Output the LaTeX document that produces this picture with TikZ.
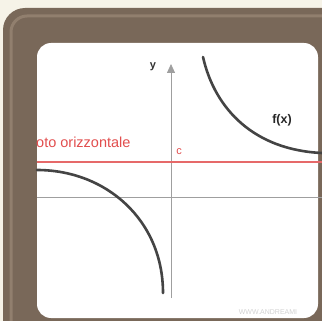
\documentclass[tikz,border=0pt]{standalone}
\usepackage{fontspec}
\setmainfont{Liberation Sans}
\usetikzlibrary{arrows.meta}

\definecolor{cream}{RGB}{246,243,232}
\definecolor{framebrown}{RGB}{121,104,89}
\definecolor{framelight}{RGB}{145,127,110}
\definecolor{asymred}{RGB}{226,78,78}
\definecolor{curvegray}{RGB}{68,68,68}

\begin{document}
\begin{tikzpicture}[
    >={Triangle[width=8pt,length=9pt]},
    x=1pt,
    y=-1pt
]

% 1. Background and frame
\useasboundingbox (0,0) rectangle (322,321);
\clip (0,0) rectangle (322,321);
\fill[cream] (0,0) rectangle (322,321);
\fill[framebrown, rounded corners=22pt] (3,8) rectangle (360,360);
\draw[framelight, line width=3pt, rounded corners=16pt] (11,16) rectangle (360,360);

% 2. White panel
\fill[white, rounded corners=14pt] (37,43) rectangle (318,318);

% 3. Axes
\draw[line width=0.8pt, draw=gray!75] (37,197) -- (322,197);
\draw[->, line width=0.8pt, draw=gray!75] (171,298) -- (171,64);
\node[font=\fontsize{11pt}{12pt}\selectfont\bfseries, text=black!80] (ylab) at (153,67) {y};

% 4. Horizontal asymptote
\draw[line width=1.8pt, draw=asymred!85] (37,162) -- (322,162);
\node[anchor=west, inner sep=0pt, font=\fontsize{14.5pt}{16pt}\selectfont, text=asymred] (asymlab) at (36,142) {oto orizzontale};
\node[font=\fontsize{11pt}{12pt}\selectfont, text=asymred] (clab) at (179,152) {c};

% 5. Branches of f(x)
\draw[line width=2.6pt, draw=curvegray, line cap=round] (203,57) .. controls (215,110) and (255,150) .. (322,153);
\draw[line width=2.6pt, draw=curvegray, line cap=round] (37,170) .. controls (106,170) and (163,220) .. (163,293);
\node[font=\fontsize{12.5pt}{14pt}\selectfont\bfseries, text=black!85] (flab) at (282,120) {f(x)};

% 6. Watermark
\node[font=\fontsize{7pt}{8pt}\selectfont, text=gray!35] (wmark) at (268,312) {WWW.ANDREAMI};

\end{tikzpicture}
\end{document}
